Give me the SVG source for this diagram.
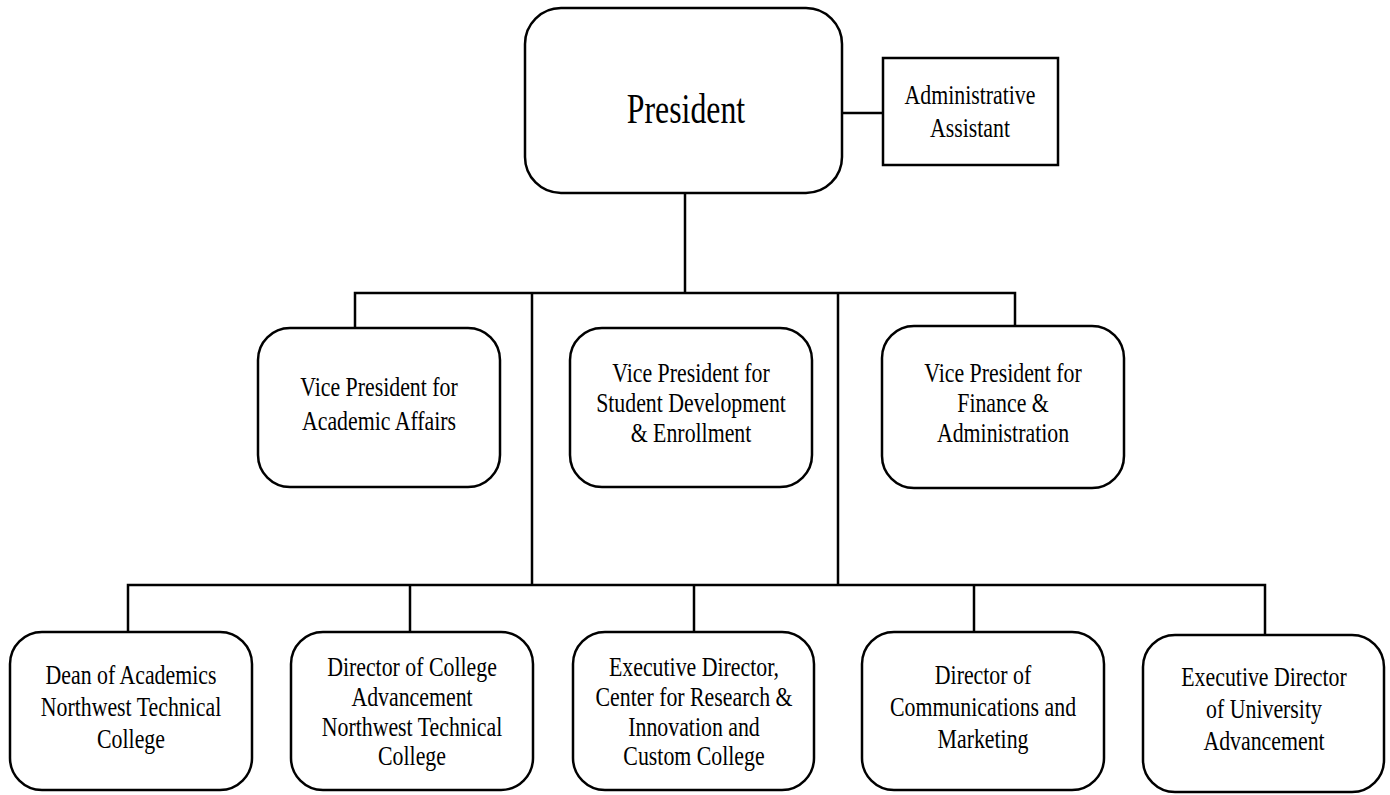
<svg xmlns="http://www.w3.org/2000/svg" width="1390" height="795" viewBox="0 0 1390 795">
<style>
.box{fill:#fff;stroke:#000;stroke-width:2.5}
.ln{fill:none;stroke:#000;stroke-width:2.5}
text{font-family:"Liberation Serif","Times New Roman",serif;font-size:28px;fill:#000;text-anchor:middle}
.big{font-size:43px}
</style>
<rect width="1390" height="795" fill="#fff"/>
<g id="connectors">
<path class="ln" d="M842 113H883"/>
<path class="ln" d="M685 193V293"/>
<path class="ln" d="M355 328V293H1015V326"/>
<path class="ln" d="M532 293V585"/>
<path class="ln" d="M838 293V585"/>
<path class="ln" d="M128 632V585H1265V635"/>
<path class="ln" d="M410 585V632"/>
<path class="ln" d="M694 585V632"/>
<path class="ln" d="M974 585V632"/>
</g>
<g id="president">
<rect class="box" x="525" y="8" width="317" height="185" rx="36"/>
<text class="big" transform="matrix(0.74 0 0 1 686 0)" x="0" y="123">President</text>
</g>
<g id="admin-assistant">
<rect class="box" x="883" y="58" width="175" height="107"/>
<g transform="matrix(0.78 0 0 1 970 0)">
<text x="0" y="104">Administrative</text>
<text x="0" y="137">Assistant</text>
</g>
</g>
<g id="vp-academic">
<rect class="box" x="258" y="328" width="242" height="159" rx="32"/>
<g transform="matrix(0.78 0 0 1 379 0)">
<text x="0" y="396">Vice President for</text>
<text x="0" y="430">Academic Affairs</text>
</g>
</g>
<g id="vp-student">
<rect class="box" x="570" y="328" width="242" height="159" rx="32"/>
<g transform="matrix(0.78 0 0 1 691 0)">
<text x="0" y="382">Vice President for</text>
<text x="0" y="412">Student Development</text>
<text x="0" y="442">&amp; Enrollment</text>
</g>
</g>
<g id="vp-finance">
<rect class="box" x="882" y="326" width="242" height="162" rx="32"/>
<g transform="matrix(0.78 0 0 1 1003 0)">
<text x="0" y="382">Vice President for</text>
<text x="0" y="412">Finance &amp;</text>
<text x="0" y="442">Administration</text>
</g>
</g>
<g id="dean-academics">
<rect class="box" x="10" y="632" width="242" height="158" rx="32"/>
<g transform="matrix(0.78 0 0 1 131 0)">
<text x="0" y="684">Dean of Academics</text>
<text x="0" y="716">Northwest Technical</text>
<text x="0" y="748">College</text>
</g>
</g>
<g id="director-college-adv">
<rect class="box" x="291" y="632" width="242" height="158" rx="32"/>
<g transform="matrix(0.78 0 0 1 412 0)">
<text x="0" y="676">Director of College</text>
<text x="0" y="706">Advancement</text>
<text x="0" y="736">Northwest Technical</text>
<text x="0" y="765">College</text>
</g>
</g>
<g id="exec-director-research">
<rect class="box" x="573" y="632" width="241" height="158" rx="32"/>
<g transform="matrix(0.78 0 0 1 694 0)">
<text x="0" y="676">Executive Director,</text>
<text x="0" y="706">Center for Research &amp;</text>
<text x="0" y="736">Innovation and</text>
<text x="0" y="765">Custom College</text>
</g>
</g>
<g id="director-communications">
<rect class="box" x="862" y="632" width="242" height="158" rx="32"/>
<g transform="matrix(0.78 0 0 1 983 0)">
<text x="0" y="684">Director of</text>
<text x="0" y="716">Communications and</text>
<text x="0" y="748">Marketing</text>
</g>
</g>
<g id="exec-director-univ-adv">
<rect class="box" x="1143" y="635" width="241" height="157" rx="32"/>
<g transform="matrix(0.78 0 0 1 1264 0)">
<text x="0" y="686">Executive Director</text>
<text x="0" y="718">of University</text>
<text x="0" y="750">Advancement</text>
</g>
</g>
</svg>
